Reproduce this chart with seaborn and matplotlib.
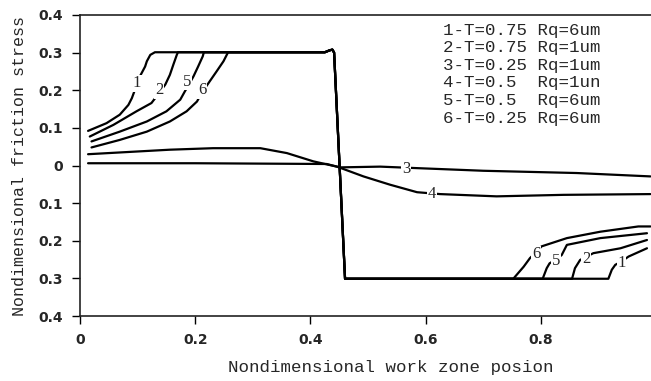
import matplotlib
matplotlib.use("Agg")
import matplotlib.pyplot as plt
import seaborn as sns
import pandas as pd

# ---- data ----
c1_x = [0.014, 0.046, 0.069, 0.084, 0.090, 0.104, 0.113, 0.116, 0.122, 0.130, 0.425, 0.433, 0.438, 0.441, 0.460,
        0.917, 0.923, 0.929, 0.940, 0.952, 0.984]
c1_y = [0.092, 0.1125, 0.135, 0.161, 0.179, 0.237, 0.263, 0.277, 0.294, 0.301, 0.301, 0.306, 0.308, 0.300, -0.301,
        -0.301, -0.277, -0.264, -0.255, -0.242, -0.220]

c2_x = [0.017, 0.058, 0.098, 0.124, 0.136, 0.148, 0.156, 0.162, 0.168, 0.170, 0.425, 0.433, 0.438, 0.441, 0.460,
        0.854, 0.859, 0.868, 0.878, 0.891, 0.938, 0.984]
c2_y = [0.077, 0.108, 0.144, 0.166, 0.190, 0.215, 0.241, 0.268, 0.294, 0.301, 0.301, 0.306, 0.308, 0.300, -0.301,
        -0.301, -0.273, -0.251, -0.243, -0.233, -0.220, -0.198]

c5_x = [0.020, 0.069, 0.116, 0.150, 0.174, 0.182, 0.190, 0.197, 0.205, 0.213, 0.215, 0.425, 0.433, 0.438, 0.441, 0.460,
        0.803, 0.810, 0.815, 0.826, 0.836, 0.845, 0.903, 0.984]
c5_y = [0.064, 0.090, 0.117, 0.144, 0.175, 0.197, 0.218, 0.237, 0.263, 0.290, 0.301, 0.301, 0.306, 0.308, 0.300, -0.301,
        -0.301, -0.273, -0.260, -0.250, -0.238, -0.211, -0.193, -0.180]

c6_x = [0.020, 0.069, 0.116, 0.156, 0.185, 0.203, 0.212, 0.223, 0.237, 0.249, 0.257, 0.425, 0.433, 0.438, 0.441, 0.460,
        0.752, 0.770, 0.781, 0.792, 0.801, 0.845, 0.903, 0.969, 0.990]
c6_y = [0.048, 0.068, 0.090, 0.117, 0.144, 0.170, 0.195, 0.219, 0.250, 0.277, 0.301, 0.301, 0.306, 0.308, 0.300, -0.301,
        -0.301, -0.269, -0.246, -0.230, -0.215, -0.193, -0.176, -0.162, -0.162]

c3_x = [0.014, 0.200, 0.428, 0.451, 0.521, 0.585, 0.700, 0.862, 0.990]
c3_y = [0.006, 0.006, 0.004, -0.005, -0.003, -0.007, -0.014, -0.020, -0.029]

c4_x = [0.014, 0.156, 0.231, 0.313, 0.359, 0.405, 0.446, 0.492, 0.538, 0.585, 0.625, 0.723, 0.839, 0.990]
c4_y = [0.030, 0.042, 0.046, 0.046, 0.033, 0.011, -0.003, -0.029, -0.051, -0.071, -0.076, -0.082, -0.078, -0.076]

curve_names = ["1", "2", "3", "4", "5", "6"]
legend_lines = ["1-T=0.75 Rq=6um", "2-T=0.75 Rq=1um", "3-T=0.25 Rq=1um",
                "4-T=0.5  Rq=1un", "5-T=0.5  Rq=6um", "6-T=0.25 Rq=6um"]

# curve label positions (label, x, y)
lab_txt = ["1", "2", "5", "6", "6", "5", "2", "1", "3", "4"]
lab_x = [0.099, 0.137, 0.186, 0.212, 0.792, 0.826, 0.878, 0.940, 0.566, 0.611]
lab_y = [0.218, 0.201, 0.223, 0.201, -0.236, -0.253, -0.248, -0.260, -0.009, -0.076]

yticks = [0.4, 0.3, 0.2, 0.1, 0.0, -0.1, -0.2, -0.3, -0.4]
ytick_labels = ["0.4", "0.3", "0.2", "0.1", "0", "0.1", "0.2", "0.3", "0.4"]
xticks = [0.0, 0.2, 0.4, 0.6, 0.8]
xtick_labels = ["0", "0.2", "0.4", "0.6", "0.8"]

# ---- build long table ----
frames = []
for name, xs, ys in [("1", c1_x, c1_y), ("2", c2_x, c2_y), ("3", c3_x, c3_y),
                     ("4", c4_x, c4_y), ("5", c5_x, c5_y), ("6", c6_x, c6_y)]:
    frames.append(pd.DataFrame({"x": xs, "y": ys, "curve": name}))
df = pd.concat(frames, ignore_index=True)

sns.set_style("white")
mono = "Liberation Mono"

fig = plt.figure(figsize=(6.51, 3.81), dpi=100)
ax = fig.add_axes([80 / 651, 1 - 316 / 381, 1 - 80 / 651, (316 - 15) / 381])

sns.lineplot(data=df, x="x", y="y", hue="curve", units="curve", estimator=None,
             sort=False, palette=["black"] * 6, linewidth=1.6, legend=False, ax=ax)
for ln in ax.lines:
    ln.set_solid_joinstyle("round")
    ln.set_solid_capstyle("round")

ax.set_xlim(0, 0.991)
ax.set_ylim(-0.4, 0.4)
ax.set_yticks(yticks)
ax.set_yticklabels(ytick_labels, fontweight="bold", fontsize=10, family="DejaVu Sans")
ax.set_xticks(xticks)
ax.set_xticklabels(xtick_labels, fontweight="bold", fontsize=10, family="DejaVu Sans")
ax.tick_params(axis="both", direction="out", length=6, width=1, color="black",
               left=True, bottom=True, pad=6)

ax.spines["right"].set_visible(False)
for s in ["left", "bottom", "top"]:
    ax.spines[s].set_color("#222222")
    ax.spines[s].set_linewidth(1.2)

ax.set_xlabel("Nondimensional work zone posion", family=mono, fontsize=12.6)
ax.set_ylabel("Nondimensional friction stress", family=mono, fontsize=12)
ax.xaxis.set_label_coords(0.545, -0.145)
ax.yaxis.set_label_coords(-0.092, 0.5)

for t, x, y in zip(lab_txt, lab_x, lab_y):
    ax.text(x, y, t, family="Liberation Serif", fontsize=12, ha="center", va="center",
            bbox=dict(facecolor="white", edgecolor="none", pad=0.5), zorder=5)

for i, line in enumerate(legend_lines):
    ax.text(0.636, 0.950 - i * 17.6 / 301, line, transform=ax.transAxes,
            family=mono, fontsize=12.6, ha="left", va="center")

fig.savefig("out.png", dpi=100)
